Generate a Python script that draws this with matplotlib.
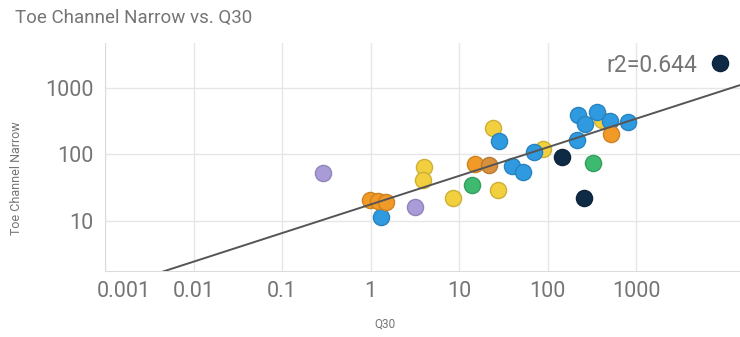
import matplotlib
matplotlib.use("Agg")
import matplotlib.pyplot as plt
import numpy as np
from matplotlib.transforms import ScaledTranslation
from matplotlib.ticker import FixedLocator, FixedFormatter, NullLocator
from matplotlib.colors import to_rgb

plt.rcParams['font.family'] = ['Roboto', 'DejaVu Sans']

# Q30 (x) and Toe Channel Narrow (y), grouped by colour series
yellow_x = [4.0, 3.9, 8.55, 24.2, 27.6, 89, 413]
yellow_y = [65, 41, 22.2, 250, 29.3, 121, 330]
blue_x = [1.31, 28.3, 39.7, 52.9, 70.4, 215, 221, 265, 362, 508, 812]
blue_y = [11.5, 160, 67, 54.6, 109, 165, 393, 288, 436, 319, 308]
orange_x = [0.99, 1.22, 1.50, 15.2, 522]
orange_y = [20.7, 20.0, 19.3, 72, 203]
brown_x = [21.8]
brown_y = [69.5]
green_x = [14.0, 327]
green_y = [34.8, 74.5]
purple_x = [0.29, 3.18]
purple_y = [52.7, 16.3]
navy_x = [146, 258, 8900]
navy_y = [91.7, 22.2, 2377]

# power trendline y = a * x^b
trend_a = 17.7
trend_b = 0.43
r2_text = "r2=0.644"

x_ticks = [0.001, 0.01, 0.1, 1, 10, 100, 1000]
x_tick_labels = ["0.001", "0.01", "0.1", "1", "10", "100", "1000"]
y_ticks = [10, 100, 1000]
y_tick_labels = ["10", "100", "1000"]

x_range = (0.001, 14960)
y_range = (1.77, 4750)

TEXT = "#757575"
GRID = "#e6e6e6"

fig = plt.figure(figsize=(7.4, 3.37), dpi=100)
ax = fig.add_axes([105 / 740, 66 / 337, 635 / 740, 228 / 337])
ax.set_xscale("log")
ax.set_yscale("log")
ax.set_xlim(*x_range)
ax.set_ylim(*y_range)

series = [
    (yellow_x, yellow_y, "#f1cf3e"),
    (blue_x, blue_y, "#2f9ae0"),
    (orange_x, orange_y, "#f29a28"),
    (brown_x, brown_y, "#d9903c"),
    (green_x, green_y, "#3dba6f"),
    (purple_x, purple_y, "#a99bd8"),
    (navy_x, navy_y, "#0f2a44"),
]
for xs, ys, col in series:
    edge = tuple(c * 0.85 for c in to_rgb(col))
    ax.scatter(xs, ys, s=135, color=col, edgecolors=[edge], linewidths=1.0,
               zorder=3)

tx = np.logspace(np.log10(x_range[0]), np.log10(x_range[1]), 50)
ax.plot(tx, trend_a * tx ** trend_b, color="#555555", lw=1.4, zorder=4)

fig.text(697 / 740, 1 - 65 / 337, r2_text, ha="right", va="center",
         fontsize=16.5, color=TEXT)

ax.xaxis.set_major_locator(FixedLocator(x_ticks))
ax.xaxis.set_major_formatter(FixedFormatter(x_tick_labels))
ax.yaxis.set_major_locator(FixedLocator(y_ticks))
ax.yaxis.set_major_formatter(FixedFormatter(y_tick_labels))
ax.xaxis.set_minor_locator(NullLocator())
ax.yaxis.set_minor_locator(NullLocator())
ax.tick_params(length=0, labelsize=15.5, labelcolor=TEXT)
ax.tick_params(axis="x", pad=7)
ax.tick_params(axis="y", pad=8)
ax.grid(True, color=GRID, lw=1, zorder=0)
ax.set_axisbelow(True)
for side in ("top", "right"):
    ax.spines[side].set_visible(False)
for side in ("left", "bottom"):
    ax.spines[side].set_color("#dcdcdc")

first = ax.get_xticklabels()[0]
first.set_transform(first.get_transform() +
                    ScaledTranslation(19 / 100, 0, fig.dpi_scale_trans))

fig.text(15 / 740, 1 - 18 / 337, "Toe Channel Narrow vs. Q30", ha="left",
         va="center", fontsize=13.5, color=TEXT)
fig.text(17 / 740, 1 - 178 / 337, "Toe Channel Narrow", rotation=90,
         ha="center", va="center", fontsize=9, color=TEXT)
fig.text(385 / 740, 1 - 324 / 337, "Q30", ha="center", va="center",
         fontsize=8.5, color=TEXT)

fig.savefig("out.png", dpi=100, facecolor="white")
